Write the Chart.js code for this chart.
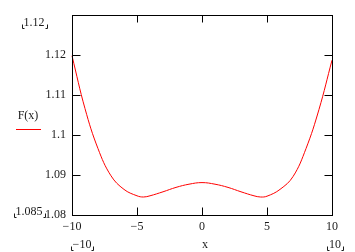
<!DOCTYPE html>
<html>
<head>
<meta charset="utf-8">
<script src="https://cdn.jsdelivr.net/npm/chart.js@4"></script>
<style>
  html, body { margin: 0; padding: 0; background: #fff; }
  #chart { display: block; }
</style>
</head>
<body>
<canvas id="chart" width="355" height="252"></canvas>
<script>
// values
const xValues = [-10, -9, -8, -7, -6, -5, -4.5, -4, -3, -2, -1, 0, 1, 2, 3, 4, 4.5, 5, 6, 7, 8, 9, 10];
const fValues = [1.1198, 1.1066, 1.0966, 1.0898, 1.0864, 1.0848, 1.0845, 1.0848, 1.0858, 1.0869, 1.0877, 1.0881,
                 1.0877, 1.0869, 1.0858, 1.0848, 1.0845, 1.0847, 1.0864, 1.0896, 1.0966, 1.1064, 1.1187];

const xTicks = [-10, -5, 0, 5, 10];
const xTickLabels = ['\u221210', '\u22125', '0', '5', '10'];
const yTicks = [1.08, 1.09, 1.1, 1.11, 1.12];
const yTickLabels = ['1.08', '1.09', '1.1', '1.11', '1.12'];

const yLimitLabels = ['1.085', '1.12'];   // lower, upper
const xLimitLabels = ['\u221210', '10'];  // left, right
const seriesName = 'F(x)';
const xName = 'x';

const FONT = '12px "Liberation Serif", serif';
const INK = '#1a1a1a';

// frame, inner ticks and the Mathcad style side labels
const frameAndLabels = {
    id: 'frameAndLabels',
    afterDraw(chart) {
        const ctx = chart.ctx;
        const a = chart.chartArea;
        const xs = chart.scales.x;
        const ys = chart.scales.y;
        const L = Math.round(a.left) + 0.5, R = Math.round(a.right) + 0.5;
        const T = Math.round(a.top) + 0.5, B = Math.round(a.bottom) + 0.5;

        ctx.save();
        ctx.strokeStyle = '#000';
        ctx.lineWidth = 1;
        ctx.strokeRect(L, T, R - L, B - T);

        ctx.beginPath();
        xTicks.slice(1, -1).forEach(v => {
            const px = Math.round(xs.getPixelForValue(v)) + 0.5;
            ctx.moveTo(px, B); ctx.lineTo(px, B - 8);
            ctx.moveTo(px, T); ctx.lineTo(px, T + 7);
        });
        yTicks.slice(1).forEach(v => {
            const py = Math.round(ys.getPixelForValue(v)) + 0.5;
            ctx.moveTo(L, py); ctx.lineTo(L + 8, py);
            ctx.moveTo(R, py); ctx.lineTo(R - 8, py);
        });
        ctx.stroke();

        ctx.font = FONT;
        ctx.fillStyle = INK;
        ctx.textBaseline = 'middle';

        // bracketed limit labels
        const bracketed = (text, cx, cy) => {
            ctx.textAlign = 'center';
            ctx.fillText(text, cx, cy);
            const w = ctx.measureText(text).width;
            const x0 = Math.round(cx - w / 2 - 2) + 0.5, x1 = Math.round(cx + w / 2 + 2) + 0.5;
            const yb = Math.round(cy + 5) + 0.5;
            ctx.beginPath();
            ctx.moveTo(x0, yb - 4); ctx.lineTo(x0, yb); ctx.lineTo(x0 + 2, yb);
            ctx.moveTo(x1, yb - 4); ctx.lineTo(x1, yb); ctx.lineTo(x1 - 2, yb);
            ctx.strokeStyle = INK;
            ctx.stroke();
        };
        bracketed(yLimitLabels[1], 34, 23);
        bracketed(yLimitLabels[0], 29, 212);
        bracketed(xLimitLabels[0], 82, 245);
        bracketed(xLimitLabels[1], 335, 245);

        ctx.textAlign = 'center';
        ctx.fillText(xName, 205, 245);
        ctx.fillText(seriesName, 28, 116);

        ctx.strokeStyle = '#ff0000';
        ctx.beginPath();
        ctx.moveTo(16, 129.5); ctx.lineTo(41, 129.5);
        ctx.stroke();
        ctx.restore();
    }
};

document.addEventListener('DOMContentLoaded', function() {
    const ctx = document.getElementById('chart').getContext('2d');

    new Chart(ctx, {
        type: 'scatter',
        data: {
            datasets: [{
                label: seriesName,
                data: xValues.map((x, i) => ({ x: x, y: fValues[i] })),
                showLine: true,
                borderColor: '#ff0000',
                borderWidth: 1,
                pointRadius: 0,
                tension: 0.4,
                clip: false
            }]
        },
        options: {
            responsive: false,
            animation: false,
            layout: { padding: { top: 15, right: 23, bottom: 0, left: 0 } },
            plugins: {
                legend: { display: false },
                tooltip: { enabled: false }
            },
            scales: {
                x: {
                    type: 'linear',
                    min: -10,
                    max: 10,
                    afterBuildTicks: s => { s.ticks = xTicks.map(v => ({ value: v })); },
                    afterFit: s => { s.height = 37; },
                    grid: { display: false, drawTicks: false },
                    border: { display: false },
                    ticks: {
                        padding: 5,
                        maxRotation: 0,
                        color: INK,
                        font: { family: '"Liberation Serif", serif', size: 12 },
                        callback: function(value) {
                            return xTickLabels[xTicks.indexOf(value)];
                        }
                    }
                },
                y: {
                    min: 1.08,
                    max: 1.13,
                    afterBuildTicks: s => { s.ticks = yTicks.map(v => ({ value: v })); },
                    afterFit: s => { s.width = 72; },
                    grid: { display: false, drawTicks: false },
                    border: { display: false },
                    ticks: {
                        padding: 6,
                        color: INK,
                        font: { family: '"Liberation Serif", serif', size: 12 },
                        callback: function(value) {
                            const i = yTicks.findIndex(t => Math.abs(t - value) < 1e-9);
                            return i < 0 ? '' : yTickLabels[i];
                        }
                    }
                }
            }
        },
        plugins: [frameAndLabels]
    });
});
</script>
</body>
</html>
